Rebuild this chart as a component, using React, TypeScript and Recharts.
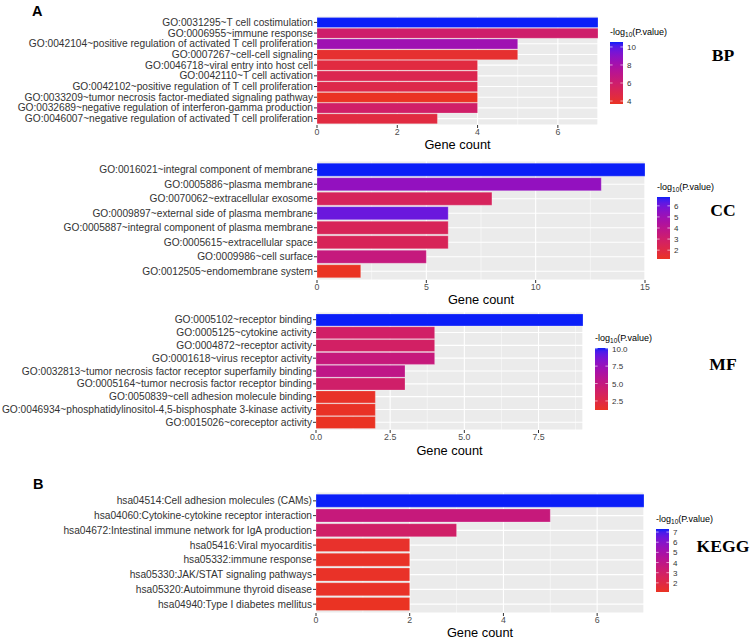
import React from 'react';
import { BarChart, Bar, XAxis, YAxis, CartesianGrid, Cell } from 'recharts';

// ---------------- data ----------------
const bpTerms = [
  'GO:0031295~T cell costimulation',
  'GO:0006955~immune response',
  'GO:0042104~positive regulation of activated T cell proliferation',
  'GO:0007267~cell-cell signaling',
  'GO:0046718~viral entry into host cell',
  'GO:0042110~T cell activation',
  'GO:0042102~positive regulation of T cell proliferation',
  'GO:0033209~tumor necrosis factor-mediated signaling pathway',
  'GO:0032689~negative regulation of interferon-gamma production',
  'GO:0046007~negative regulation of activated T cell proliferation',
];
const bpCounts = [7, 7, 5, 5, 4, 4, 4, 4, 4, 3];
const bpLogP = [10.55, 5.9, 8.3, 4.0, 4.5, 5.0, 4.8, 3.67, 5.8, 4.5];

const ccTerms = [
  'GO:0016021~integral component of membrane',
  'GO:0005886~plasma membrane',
  'GO:0070062~extracellular exosome',
  'GO:0009897~external side of plasma membrane',
  'GO:0005887~integral component of plasma membrane',
  'GO:0005615~extracellular space',
  'GO:0009986~cell surface',
  'GO:0012505~endomembrane system',
];
const ccCounts = [15, 13, 8, 6, 6, 6, 5, 2];
const ccLogP = [6.8, 5.3, 2.6, 6.1, 2.5, 2.5, 3.5, 1.2];

const mfTerms = [
  'GO:0005102~receptor binding',
  'GO:0005125~cytokine activity',
  'GO:0004872~receptor activity',
  'GO:0001618~virus receptor activity',
  'GO:0032813~tumor necrosis factor receptor superfamily binding',
  'GO:0005164~tumor necrosis factor receptor binding',
  'GO:0050839~cell adhesion molecule binding',
  'GO:0046934~phosphatidylinositol-4,5-bisphosphate 3-kinase activity',
  'GO:0015026~coreceptor activity',
];
const mfCounts = [9, 4, 4, 4, 3, 3, 2, 2, 2];
const mfLogP = [10.1, 3.9, 3.8, 4.8, 5.3, 4.0, 1.4, 1.3, 1.2];

const keggTerms = [
  'hsa04514:Cell adhesion molecules (CAMs)',
  'hsa04060:Cytokine-cytokine receptor interaction',
  'hsa04672:Intestinal immune network for IgA production',
  'hsa05416:Viral myocarditis',
  'hsa05332:immune response',
  'hsa05330:JAK/STAT signaling pathways',
  'hsa05320:Autoimmune thyroid disease',
  'hsa04940:Type I diabetes mellitus',
];
const keggCounts = [7, 5, 3, 2, 2, 2, 2, 2];
const keggLogP = [7.3, 3.6, 3.0, 1.3, 1.2, 1.2, 1.2, 1.1];

const bpXTicks = [0, 2, 4, 6];
const ccXTicks = [0, 5, 10, 15];
const mfXTicks = [0, 2.5, 5, 7.5];
const keggXTicks = [0, 2, 4, 6];

const bpLegendTicks = [4, 6, 8, 10];
const ccLegendTicks = [2, 3, 4, 5, 6];
const mfLegendTicks = [2.5, 5, 7.5, 10];
const keggLegendTicks = [2, 3, 4, 5, 6, 7];

// ---------------- colour scale (Lab interpolation, like ggplot) ----------------
const LOW = '#EA3323';
const HIGH = '#0A1EF8';

function hexToRgb(h: string) {
  const n = parseInt(h.slice(1), 16);
  return [(n >> 16) & 255, (n >> 8) & 255, n & 255];
}
function toLin(c: number) {
  c /= 255;
  return c <= 0.04045 ? c / 12.92 : Math.pow((c + 0.055) / 1.055, 2.4);
}
function fromLin(c: number) {
  const v = c <= 0.0031308 ? 12.92 * c : 1.055 * Math.pow(c, 1 / 2.4) - 0.055;
  return Math.max(0, Math.min(255, Math.round(v * 255)));
}
const XN = 0.95047, YN = 1.0, ZN = 1.08883;
function f(t: number) {
  return t > 0.008856 ? Math.cbrt(t) : 7.787 * t + 16 / 116;
}
function finv(t: number) {
  return t * t * t > 0.008856 ? t * t * t : (t - 16 / 116) / 7.787;
}
function rgbToLab(rgb: number[]) {
  const [r, g, b] = rgb.map(toLin);
  const x = r * 0.4124 + g * 0.3576 + b * 0.1805;
  const y = r * 0.2126 + g * 0.7152 + b * 0.0722;
  const z = r * 0.0193 + g * 0.1192 + b * 0.9505;
  const fx = f(x / XN), fy = f(y / YN), fz = f(z / ZN);
  return [116 * fy - 16, 500 * (fx - fy), 200 * (fy - fz)];
}
function labToHex(lab: number[]) {
  const fy = (lab[0] + 16) / 116;
  const fx = fy + lab[1] / 500;
  const fz = fy - lab[2] / 200;
  const x = finv(fx) * XN, y = finv(fy) * YN, z = finv(fz) * ZN;
  const r = x * 3.2406 + y * -1.5372 + z * -0.4986;
  const g = x * -0.9689 + y * 1.8758 + z * 0.0415;
  const b = x * 0.0557 + y * -0.204 + z * 1.057;
  return '#' + [r, g, b].map((c) => fromLin(Math.max(0, c)).toString(16).padStart(2, '0')).join('');
}
const LAB_LOW = rgbToLab(hexToRgb(LOW));
const LAB_HIGH = rgbToLab(hexToRgb(HIGH));
function rampColor(t: number) {
  const tt = Math.max(0, Math.min(1, t));
  return labToHex(LAB_LOW.map((v, i) => v + (LAB_HIGH[i] - v) * tt));
}
function colorFor(v: number, lo: number, hi: number) {
  return rampColor((v - lo) / (hi - lo));
}

// ---------------- layout ----------------
const W = 753;
const H = 639;
const SANS = '"Liberation Sans", Arial, Helvetica, sans-serif';
const SERIF = '"Liberation Serif", "Times New Roman", serif';

type PanelCfg = {
  id: string;
  terms: string[];
  counts: number[];
  logp: number[];
  xMax: number;
  xTicks: number[];
  fmt: (v: number) => string;
  legendTicks: number[];
  legendFmt: (v: number) => string;
  top: number;
  plotTop: number;
  plotHeight: number;
  axisHeight: number;
  yWidth: number;
  plotRight: number;
  legendX: number;
  titleY: number;
  barTop: number;
  barBottom: number;
  tag: string;
  tagBaseline: number;
};

const intFmt = (v: number) => String(v);
const oneFmt = (v: number) => v.toFixed(1);

const panels: PanelCfg[] = [
  {
    id: 'bp', terms: bpTerms, counts: bpCounts, logp: bpLogP, xMax: 7, xTicks: bpXTicks, fmt: intFmt,
    legendTicks: bpLegendTicks, legendFmt: intFmt,
    top: 0, plotTop: 16, plotHeight: 109, axisHeight: 24, yWidth: 317, plotRight: 598,
    legendX: 610, titleY: 32, barTop: 42, barBottom: 104, tag: 'BP', tagBaseline: 61,
  },
  {
    id: 'cc', terms: ccTerms, counts: ccCounts, logp: ccLogP, xMax: 15, xTicks: ccXTicks, fmt: intFmt,
    legendTicks: ccLegendTicks, legendFmt: intFmt,
    top: 145, plotTop: 16, plotHeight: 119, axisHeight: 24, yWidth: 317, plotRight: 645,
    legendX: 657, titleY: 187, barTop: 197, barBottom: 259, tag: 'CC', tagBaseline: 216,
  },
  {
    id: 'mf', terms: mfTerms, counts: mfCounts, logp: mfLogP, xMax: 9, xTicks: mfXTicks, fmt: oneFmt,
    legendTicks: mfLegendTicks, legendFmt: oneFmt,
    top: 296, plotTop: 16, plotHeight: 118, axisHeight: 25, yWidth: 316, plotRight: 583,
    legendX: 595, titleY: 338, barTop: 348, barBottom: 410, tag: 'MF', tagBaseline: 369.5,
  },
  {
    id: 'kegg', terms: keggTerms, counts: keggCounts, logp: keggLogP, xMax: 7, xTicks: keggXTicks, fmt: intFmt,
    legendTicks: keggLegendTicks, legendFmt: intFmt,
    top: 476, plotTop: 16, plotHeight: 121, axisHeight: 24, yWidth: 316, plotRight: 644,
    legendX: 656, titleY: 519, barTop: 529, barBottom: 592, tag: 'KEGG', tagBaseline: 551.5,
  },
];

function minorTicks(ticks: number[], max: number) {
  const step = ticks[1] - ticks[0];
  const out: number[] = [];
  for (let v = step / 2; v < max; v += step) out.push(v);
  return out;
}

function YTick(props: any) {
  const { x, y, payload } = props;
  return (
    <text x={x} y={y} dy="0.35em" textAnchor="end" fontSize={10.2} fill="#333333" fontFamily={SANS}>
      {payload.value}
    </text>
  );
}

function Panel({ cfg }: { cfg: PanelCfg }) {
  const rows = cfg.terms.map((t, i) => ({ term: t, count: cfg.counts[i], logp: cfg.logp[i] }));
  const lo = Math.min(...cfg.logp);
  const hi = Math.max(...cfg.logp);
  const band = cfg.plotHeight / (rows.length + 0.2);
  const pad = band * 0.1;
  const chartH = cfg.plotTop + cfg.plotHeight + cfg.axisHeight + 2;
  return (
    <div style={{ position: 'absolute', left: 0, top: cfg.top, width: W, height: chartH }}>
      <BarChart
        width={W}
        height={chartH}
        layout="vertical"
        data={rows}
        margin={{ top: cfg.plotTop, right: W - cfg.plotRight, bottom: 2, left: 0 }}
        barCategoryGap="5%"
      >
        <CartesianGrid fill="#EBEBEB" stroke="#FFFFFF" strokeWidth={1.1} />
        <CartesianGrid xAxisId="minor" horizontal={false} stroke="#FFFFFF" strokeWidth={0.5} />
        <XAxis
          type="number"
          domain={[0, cfg.xMax]}
          ticks={cfg.xTicks}
          tickFormatter={cfg.fmt}
          axisLine={false}
          tickSize={3}
          tickMargin={1}
          height={cfg.axisHeight}
          tickLine={{ stroke: '#333333' }}
          tick={{ fontSize: 8.8, fill: '#4D4D4D', fontFamily: SANS }}
          allowDataOverflow
          label={{ value: 'Gene count', position: 'insideBottom', offset: 0, fontSize: 12.8, fill: '#000000', fontFamily: SANS }}
        />
        <XAxis
          xAxisId="minor"
          type="number"
          domain={[0, cfg.xMax]}
          ticks={minorTicks(cfg.xTicks, cfg.xMax)}
          allowDataOverflow
          hide
        />
        <YAxis
          type="category"
          dataKey="term"
          width={cfg.yWidth}
          interval={0}
          padding={{ top: pad, bottom: pad }}
          axisLine={false}
          tickSize={3}
          tickMargin={1}
          tickLine={{ stroke: '#333333' }}
          tick={<YTick />}
        />
        <Bar dataKey="count" isAnimationActive={false} stroke="#FFFFFF" strokeWidth={0.4} strokeOpacity={0.6}>
          {rows.map((r, i) => (
            <Cell key={i} fill={colorFor(r.logp, lo, hi)} />
          ))}
        </Bar>
      </BarChart>
    </div>
  );
}

function Legend({ cfg }: { cfg: PanelCfg }) {
  const lo = Math.min(...cfg.logp);
  const hi = Math.max(...cfg.logp);
  const bw = 13;
  const bh = cfg.barBottom - cfg.barTop;
  const stops = Array.from({ length: 21 }, (_, i) => i / 20);
  const yOf = (v: number) => cfg.barBottom - ((v - lo) / (hi - lo)) * bh;
  const gid = 'grad-' + cfg.id;
  return (
    <g>
      <defs>
        <linearGradient id={gid} x1="0" y1="1" x2="0" y2="0">
          {stops.map((s) => (
            <stop key={s} offset={s} stopColor={rampColor(s)} />
          ))}
        </linearGradient>
      </defs>
      <text x={cfg.legendX} y={cfg.titleY + 3} fontSize={9} fontFamily={SANS} fill="#000">
        -log
        <tspan fontSize={6.5} dy={2.2}>10</tspan>
        <tspan dy={-2.2}>(P.value)</tspan>
      </text>
      <rect x={cfg.legendX} y={cfg.barTop} width={bw} height={bh} fill={`url(#${gid})`} />
      {cfg.legendTicks.map((t) => (
        <g key={t}>
          <line x1={cfg.legendX} x2={cfg.legendX + 2.6} y1={yOf(t)} y2={yOf(t)} stroke="#fff" strokeWidth={0.6} />
          <line x1={cfg.legendX + bw - 2.6} x2={cfg.legendX + bw} y1={yOf(t)} y2={yOf(t)} stroke="#fff" strokeWidth={0.6} />
          <text x={cfg.legendX + bw + 4} y={yOf(t) + 3} fontSize={8} fontFamily={SANS} fill="#333">
            {cfg.legendFmt(t)}
          </text>
        </g>
      ))}
      <text x={723} y={cfg.tagBaseline} textAnchor="middle" fontSize={17.6} fontWeight="bold" fontFamily={SERIF} fill="#000">
        {cfg.tag}
      </text>
    </g>
  );
}

export default function App() {
  return (
    <div style={{ position: 'absolute', left: 0, top: 0, width: W, height: H, background: '#fff', overflow: 'hidden' }}>
      {panels.map((p) => (
        <Panel key={p.id} cfg={p} />
      ))}
      <svg width={W} height={H} style={{ position: 'absolute', left: 0, top: 0, pointerEvents: 'none' }}>
        {panels.map((p) => (
          <Legend key={p.id} cfg={p} />
        ))}
        <text x={32} y={15.5} fontSize={14.5} fontWeight="bold" fontFamily={SANS} fill="#000">A</text>
        <text x={33} y={489} fontSize={14.5} fontWeight="bold" fontFamily={SANS} fill="#000">B</text>
      </svg>
    </div>
  );
}
